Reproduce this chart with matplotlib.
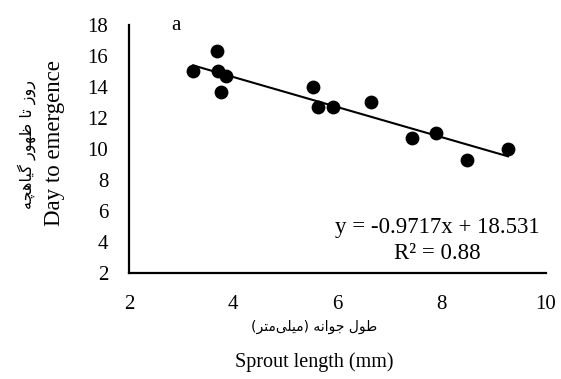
import matplotlib
matplotlib.use('Agg')
import matplotlib.pyplot as plt
import numpy as np

sprout_length = [3.23, 3.69, 3.70, 3.86, 3.76, 5.53, 5.63, 5.92, 6.65, 7.43, 7.89, 8.49, 9.27]
days_to_emergence = [15.0, 16.3, 15.0, 14.7, 13.7, 14.0, 12.7, 12.7, 13.0, 10.7, 11.0, 9.3, 10.0]

slope = -0.9717
intercept = 18.531
r_squared = 0.88

x_ticks = [2, 4, 6, 8, 10]
y_ticks = [2, 4, 6, 8, 10, 12, 14, 16, 18]


def visual(codes):
    # arabic presentation forms given in logical order -> left-to-right drawing order
    mirror = {'(': ')', ')': '('}
    chars = [mirror.get(c, c) if isinstance(c, str) else chr(c) for c in codes]
    return ''.join(reversed(chars))


# روز تا ظهور گیاهچه
fa_ylabel = visual([0xFEAD, 0xFEED, 0xFEAF, ' ',
                    0xFE97, 0xFE8E, ' ',
                    0xFEC7, 0xFEEC, 0xFEEE, 0xFEAD, ' ',
                    0xFB94, 0xFBFF, 0xFE8E, 0xFEEB, 0xFB7D, 0xFEEA])
# طول جوانه (میلی‌متر)
fa_xlabel = visual([0xFEC3, 0xFEEE, 0xFEDD, ' ',
                    0xFE9F, 0xFEEE, 0xFE8D, 0xFEE7, 0xFEEA, ' ',
                    '(', 0xFEE3, 0xFBFF, 0xFEE0, 0xFBFD, 0xFEE3, 0xFE98, 0xFEAE, ')'])

plt.rcParams['font.family'] = ['Liberation Serif', 'DejaVu Sans']

fig = plt.figure(figsize=(5.61, 3.79), dpi=100)
ax = fig.add_axes([0.23, 0.28, 0.7433, 0.654])

ax.scatter(sprout_length, days_to_emergence, s=80, color='black', zorder=3)

xs = np.array([min(sprout_length), max(sprout_length)])
ax.plot(xs, slope * xs + intercept, color='black', lw=1.5)

ax.set_xlim(2, 10)
ax.set_ylim(2, 18)
ax.set_xticks(x_ticks)
ax.set_yticks(y_ticks)
ax.tick_params(length=0, labelsize=15)
ax.tick_params(axis='x', pad=16)
ax.tick_params(axis='y', pad=15)

for side in ['top', 'right']:
    ax.spines[side].set_visible(False)
for side in ['left', 'bottom']:
    ax.spines[side].set_linewidth(1.6)

ax.text(0.739, 0.185, f'y = {slope}x + {intercept}', transform=ax.transAxes,
        ha='center', va='center', fontsize=16.5)
ax.text(0.739, 0.077, f'R\u00b2 = {r_squared}', transform=ax.transAxes,
        ha='center', va='center', fontsize=16.5)
fig.text(0.3137, 0.933, 'a', ha='center', va='center', fontsize=15)

fig.text(0.56, 0.137, fa_xlabel, ha='center', va='center', fontsize=10,
         family=['DejaVu Sans'])
fig.text(0.56, 0.045, 'Sprout length (mm)', ha='center', va='center', fontsize=14.5)
fig.text(0.098, 0.623, 'Day to emergence', rotation=90, ha='center', va='center', fontsize=16.5)
fig.text(0.047, 0.62, fa_ylabel, rotation=90, ha='center', va='center', fontsize=11.5,
         family=['DejaVu Sans'])

fig.savefig('out.png', dpi=100)
